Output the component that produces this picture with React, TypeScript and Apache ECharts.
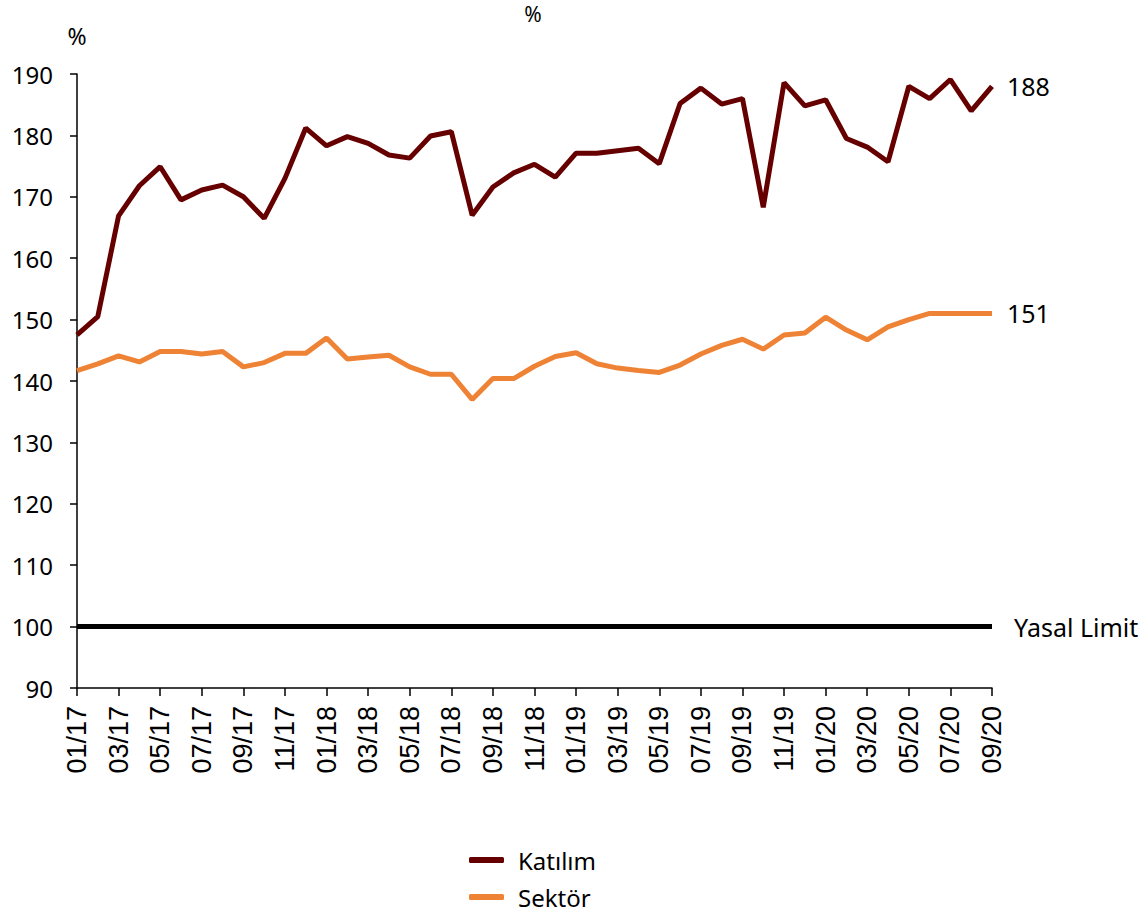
import React, { useEffect, useRef } from "react";
import * as echarts from "echarts";

const months: string[] = [
  "01/17","02/17","03/17","04/17","05/17","06/17","07/17","08/17","09/17","10/17","11/17","12/17",
  "01/18","02/18","03/18","04/18","05/18","06/18","07/18","08/18","09/18","10/18","11/18","12/18",
  "01/19","02/19","03/19","04/19","05/19","06/19","07/19","08/19","09/19","10/19","11/19","12/19",
  "01/20","02/20","03/20","04/20","05/20","06/20","07/20","08/20","09/20",
];

const katilim: number[] = [
  147.5, 150.5, 166.9, 171.8, 174.9, 169.5, 171.1, 171.9, 170.0, 166.5, 173.0, 181.2,
  178.3, 179.8, 178.7, 176.8, 176.3, 179.9, 180.6, 167.0, 171.6, 173.9, 175.3, 173.2,
  177.1, 177.1, 177.5, 177.9, 175.4, 185.2, 187.7, 185.1, 186.0, 168.3, 188.6, 184.8,
  185.8, 179.5, 178.1, 175.7, 188.0, 186.0, 189.1, 184.0, 188.0,
];

const sektor: number[] = [
  141.7, 142.8, 144.1, 143.1, 144.8, 144.8, 144.4, 144.8, 142.3, 143.0, 144.5, 144.5,
  147.0, 143.6, 143.9, 144.2, 142.3, 141.1, 141.1, 137.0, 140.4, 140.4, 142.4, 144.0,
  144.6, 142.8, 142.1, 141.7, 141.4, 142.6, 144.4, 145.8, 146.8, 145.2, 147.5, 147.8,
  150.4, 148.3, 146.7, 148.8, 150.0, 151.0, 151.0, 151.0, 151.0,
];

const yasalLimitValue = 100;
const yasalLimit: number[] = months.map(() => yasalLimitValue);

const seriesNames = ["Katılım", "Sektör", "Yasal Limit"];
const endLabels = ["188", "151", "Yasal Limit"];

const TXT = "'Noto Sans', 'DejaVu Sans', sans-serif";

export default function App() {
  const ref = useRef<HTMLDivElement>(null);
  useEffect(() => {
    if (!ref.current) return;
    const chart = echarts.init(ref.current, undefined, { renderer: "svg" });
    const legendCommon = {
      orient: "horizontal",
      left: 469,
      padding: 0,
      itemGap: 10,
      itemWidth: 35,
      itemHeight: 6,
      icon: "roundRect",
      textStyle: { fontFamily: TXT, fontSize: 24, color: "#000", padding: [0, 0, 0, 9] },
    };
    chart.setOption({
      animation: false,
      backgroundColor: "#ffffff",
      title: {
        text: "%",
        left: 533,
        top: 3,
        padding: 0,
        textAlign: "center",
        textStyle: { fontFamily: TXT, fontSize: 21, fontWeight: "normal", color: "#000" },
      },
      legend: [
        { ...legendCommon, top: 848, data: [seriesNames[0]] },
        { ...legendCommon, top: 885, data: [seriesNames[1]] },
      ],
      grid: { left: 77, right: 156, top: 74, bottom: 226, containLabel: false },
      xAxis: {
        type: "category",
        data: months,
        boundaryGap: false,
        axisLine: { lineStyle: { color: "#000", width: 1.5 } },
        axisTick: { interval: 1, length: 8, lineStyle: { color: "#000", width: 1.5 } },
        axisLabel: {
          interval: 1,
          rotate: 90,
          margin: 18,
          fontFamily: "'Liberation Sans', Arial, sans-serif",
          fontSize: 27,
          color: "#000",
        },
        splitLine: { show: false },
      },
      yAxis: {
        type: "value",
        min: 90,
        max: 190,
        interval: 10,
        name: "%",
        nameLocation: "end",
        nameGap: 27,
        nameTextStyle: { fontFamily: TXT, fontSize: 23, color: "#000", align: "center" },
        axisLine: { show: true, lineStyle: { color: "#000", width: 1.5 } },
        axisTick: { show: true, length: 7, lineStyle: { color: "#000", width: 1.5 } },
        axisLabel: { fontFamily: TXT, fontSize: 24, color: "#000", margin: 24 },
        splitLine: { show: false },
      },
      series: [
        {
          name: seriesNames[0],
          type: "line",
          data: katilim,
          symbol: "none",
          lineStyle: { color: "#660000", width: 5 },
          itemStyle: { color: "#660000" },
          endLabel: {
            show: true,
            formatter: endLabels[0],
            distance: 15,
            fontFamily: TXT,
            fontSize: 25,
            color: "#000",
          },
          z: 3,
        },
        {
          name: seriesNames[1],
          type: "line",
          data: sektor,
          symbol: "none",
          lineStyle: { color: "#EE8235", width: 5 },
          itemStyle: { color: "#EE8235" },
          endLabel: {
            show: true,
            formatter: endLabels[1],
            distance: 15,
            fontFamily: TXT,
            fontSize: 25,
            color: "#000",
          },
          z: 3,
        },
        {
          name: seriesNames[2],
          type: "line",
          data: yasalLimit,
          symbol: "none",
          lineStyle: { color: "#000000", width: 5 },
          itemStyle: { color: "#000000" },
          endLabel: {
            show: true,
            formatter: endLabels[2],
            distance: 22,
            fontFamily: TXT,
            fontSize: 25,
            color: "#000",
          },
          z: 2,
        },
      ],
    });
    return () => chart.dispose();
  }, []);
  return (
    <div
      ref={ref}
      style={{ position: "absolute", left: 0, top: 0, width: 1148, height: 914 }}
    />
  );
}
